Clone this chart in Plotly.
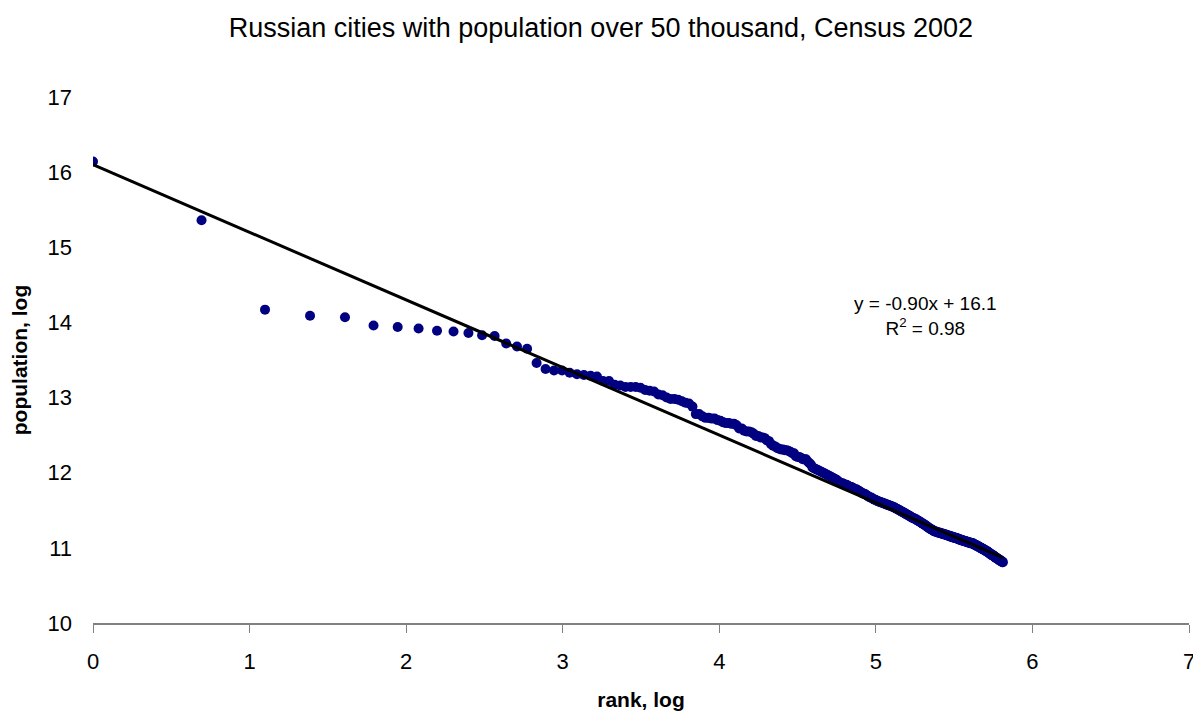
import numpy as np
import plotly.graph_objects as go

# ---- data ----
title_text = "Russian cities with population over 50 thousand, Census 2002"
x_title = "rank, log"
y_title = "population, log"

# population (natural log) of cities, ordered by rank 1..N
log_population = [
    16.14, 15.36, 14.17, 14.09, 14.07, 13.96, 13.94, 13.92, 13.89, 13.88,
    13.86, 13.83, 13.82, 13.72, 13.68, 13.65, 13.46, 13.38, 13.36, 13.36,
    13.33, 13.31, 13.30, 13.29, 13.28, 13.22, 13.22, 13.17, 13.16, 13.14,
    13.14, 13.14, 13.13, 13.10, 13.09, 13.08, 13.04, 13.03, 13.00, 12.98,
    12.98, 12.97, 12.95, 12.93, 12.92, 12.88, 12.78, 12.78, 12.75, 12.73,
    12.73, 12.72, 12.72, 12.70, 12.69, 12.67, 12.66, 12.66, 12.65, 12.65,
    12.63, 12.59, 12.59, 12.56, 12.55, 12.55, 12.54, 12.52, 12.49, 12.49,
    12.47, 12.47, 12.46, 12.43, 12.42, 12.38, 12.36, 12.35, 12.33, 12.32,
    12.31, 12.31, 12.30, 12.30, 12.29, 12.28, 12.26, 12.26, 12.22, 12.21,
    12.21, 12.20, 12.18, 12.18, 12.18, 12.15, 12.13, 12.11, 12.07, 12.06,
    12.05, 12.04, 12.03, 12.02, 12.01, 12.00, 11.99, 11.98, 11.97, 11.96,
    11.95, 11.94, 11.93, 11.92, 11.91, 11.90, 11.88, 11.87, 11.86, 11.86,
    11.85, 11.84, 11.84, 11.83, 11.82, 11.81, 11.81, 11.80, 11.79, 11.78,
    11.78, 11.77, 11.76, 11.75, 11.74, 11.73, 11.72, 11.72, 11.71, 11.70,
    11.69, 11.68, 11.67, 11.67, 11.66, 11.65, 11.64, 11.64, 11.63, 11.62,
    11.62, 11.61, 11.61, 11.60, 11.60, 11.59, 11.59, 11.58, 11.58, 11.57,
    11.57, 11.56, 11.56, 11.55, 11.55, 11.54, 11.54, 11.53, 11.52, 11.52,
    11.51, 11.50, 11.50, 11.49, 11.48, 11.48, 11.47, 11.46, 11.46, 11.45,
    11.44, 11.44, 11.43, 11.42, 11.42, 11.41, 11.40, 11.40, 11.39, 11.39,
    11.38, 11.38, 11.37, 11.36, 11.36, 11.35, 11.34, 11.34, 11.33, 11.32,
    11.32, 11.31, 11.30, 11.30, 11.29, 11.28, 11.27, 11.27, 11.26, 11.25,
    11.25, 11.24, 11.24, 11.23, 11.22, 11.22, 11.22, 11.21, 11.21, 11.21,
    11.20, 11.20, 11.20, 11.20, 11.19, 11.19, 11.19, 11.18, 11.18, 11.18,
    11.18, 11.17, 11.17, 11.17, 11.16, 11.16, 11.16, 11.16, 11.15, 11.15,
    11.15, 11.14, 11.14, 11.14, 11.14, 11.13, 11.13, 11.13, 11.13, 11.12,
    11.12, 11.12, 11.11, 11.11, 11.11, 11.10, 11.10, 11.10, 11.10, 11.09,
    11.09, 11.09, 11.09, 11.08, 11.08, 11.08, 11.08, 11.07, 11.07, 11.07,
    11.07, 11.06, 11.06, 11.06, 11.06, 11.06, 11.05, 11.05, 11.04, 11.04,
    11.04, 11.03, 11.03, 11.02, 11.02, 11.02, 11.01, 11.01, 11.00, 11.00,
    11.00, 10.99, 10.99, 10.98, 10.98, 10.98, 10.97, 10.97, 10.96, 10.96,
    10.96, 10.95, 10.95, 10.94, 10.94, 10.93, 10.93, 10.92, 10.92, 10.91,
    10.91, 10.90, 10.90, 10.90, 10.89, 10.89, 10.88, 10.88, 10.87, 10.87,
    10.86, 10.86, 10.86, 10.85, 10.85, 10.84, 10.84, 10.83, 10.83, 10.83,
    10.82, 10.82, 10.81, 10.81,
]
ranks = list(range(1, len(log_population) + 1))
log_rank = np.log(ranks)

# trendline as printed on the chart
trend_slope = -0.90
trend_intercept = 16.1
trend_label = "y = -0.90x + 16.1<br>R<sup>2</sup> = 0.98"

x_ticks = [0, 1, 2, 3, 4, 5, 6, 7]
y_ticks = [10, 11, 12, 13, 14, 15, 16, 17]

# ---- figure ----
# the page body has an 8px margin, so the figure is sized to fill the rest of the window
FONT = "Liberation Sans, Arial, sans-serif"
fig = go.Figure()
fig.add_trace(go.Scatter(
    x=log_rank, y=log_population, mode="markers",
    marker=dict(color="#000080", size=10, line=dict(width=0)),
    showlegend=False, hoverinfo="x+y",
))
trend_x = [0, float(log_rank[-1])]
trend_y = [trend_intercept + trend_slope * v for v in trend_x]
fig.add_trace(go.Scatter(
    x=trend_x, y=trend_y, mode="lines",
    line=dict(color="black", width=3), showlegend=False,
))

fig.add_annotation(
    x=5.32, y=14.08, xref="x", yref="y", text=trend_label,
    showarrow=False, align="center", font=dict(family=FONT, size=19, color="black"),
)

fig.update_layout(
    width=1193, height=707,
    paper_bgcolor="white", plot_bgcolor="white",
    margin=dict(l=85, r=12, t=89, b=92, autoexpand=False),
    font=dict(family=FONT, color="black"),
    title=dict(text=title_text, x=0.497, xanchor="center", y=0.973, yanchor="middle",
               font=dict(family=FONT, size=27, color="black")),
)
fig.update_xaxes(
    range=[0, 7], tickvals=x_ticks, showgrid=False, zeroline=False,
    showline=True, linecolor="#808080", linewidth=1.5,
    ticks="outside", ticklen=8, tickwidth=1, tickcolor="#808080",
    tickfont=dict(family=FONT, size=22, color="black"),
    ticklabelstandoff=10, automargin=False, ticklabeloverflow="allow",
    title=dict(text="<b>" + x_title + "</b>", font=dict(family=FONT, size=21, color="black"), standoff=19),
)
fig.update_yaxes(
    range=[10, 17], tickvals=y_ticks, showgrid=False, zeroline=False,
    showline=False, ticks="",
    tickfont=dict(family=FONT, size=22, color="black"),
    ticklabelstandoff=20, automargin=False, ticklabeloverflow="allow",
    title=dict(text="<b>" + y_title + "</b>", font=dict(family=FONT, size=21, color="black"), standoff=15),
)

fig.write_html("out.html")
